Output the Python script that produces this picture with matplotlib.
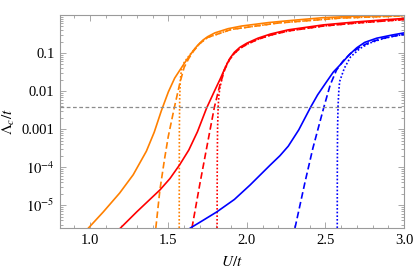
import numpy as np
import matplotlib
matplotlib.use("Agg")
import matplotlib.pyplot as plt
from matplotlib.ticker import FixedLocator, FuncFormatter, MultipleLocator

# ---------- data (y values as log10 of Lambda_c/t) ----------

orange_solid_U = [0.989, 1.085, 1.19, 1.276, 1.36, 1.41, 1.455, 1.50, 1.54, 1.573, 1.605,
                  1.637, 1.665, 1.69, 1.72, 1.75, 1.796, 1.88, 1.966, 2.136, 2.263, 2.486, 2.70, 3.0]
orange_solid_log = [-5.61, -5.18, -4.68, -4.20, -3.58, -3.08, -2.52, -2.02, -1.66, -1.45, -1.25,
                    -1.06, -0.90, -0.78, -0.66, -0.57, -0.47, -0.36, -0.29, -0.20, -0.15, -0.07, -0.03, -0.01]

orange_dash_U = [1.42, 1.446, 1.475, 1.499, 1.537, 1.573, 1.60, 1.63, 1.66, 1.70, 1.75, 1.9, 2.2, 2.6, 3.0]
orange_dash_log = [-5.6, -4.6, -3.8, -3.2, -2.45, -1.79, -1.38, -1.14, -0.95, -0.75, -0.59, -0.38, -0.21, -0.08, -0.02]

orange_dot_U = [1.569, 1.5695, 1.570, 1.572, 1.576, 1.583, 1.60, 1.63, 1.66, 1.70, 1.75, 1.9, 2.2, 2.6, 3.0]
orange_dot_log = [-5.6, -4.0, -3.0, -2.2, -1.7, -1.45, -1.25, -1.08, -0.93, -0.75, -0.59, -0.38, -0.21, -0.08, -0.02]

red_solid_U = [1.195, 1.30, 1.446, 1.51, 1.573, 1.63, 1.685, 1.743, 1.79, 1.83, 1.86, 1.89,
               1.92, 1.955, 2.0, 2.07, 2.15, 2.263, 2.486, 2.70, 3.0]
red_solid_log = [-5.6, -5.17, -4.6, -4.3, -3.93, -3.55, -3.07, -2.45, -2.03, -1.68, -1.40, -1.15,
                 -0.98, -0.85, -0.74, -0.61, -0.50, -0.39, -0.26, -0.18, -0.09]

red_dash_U = [1.65, 1.70, 1.764, 1.793, 1.828, 1.86, 1.89, 1.92, 1.955, 2.0, 2.07, 2.15, 2.263,
              2.486, 2.70, 3.0]
red_dash_log = [-5.6, -4.45, -3.05, -2.42, -1.84, -1.42, -1.17, -1.01, -0.88, -0.77, -0.64, -0.53,
                -0.42, -0.29, -0.21, -0.12]

red_dot_U = [1.81, 1.811, 1.813, 1.817, 1.822, 1.828, 1.849, 1.87, 1.89, 1.92, 1.955, 2.0, 2.07,
             2.15, 2.263, 2.486, 2.70, 3.0]
red_dot_log = [-5.6, -4.0, -3.0, -2.4, -2.1, -1.92, -1.52, -1.30, -1.16, -1.01, -0.88, -0.77, -0.64,
               -0.53, -0.42, -0.29, -0.21, -0.12]

blue_solid_U = [1.64, 1.72, 1.807, 1.92, 2.02, 2.147, 2.21, 2.263, 2.33, 2.406, 2.45,
                2.508, 2.55, 2.603, 2.65, 2.70, 2.75, 2.826, 2.92, 3.0]
blue_solid_log = [-5.6, -5.4, -5.18, -4.85, -4.47, -3.95, -3.7, -3.45, -3.02, -2.42, -2.1,
                  -1.75, -1.50, -1.27, -1.05, -0.86, -0.72, -0.61, -0.53, -0.47]

blue_dash_U = [2.306, 2.37, 2.42, 2.49, 2.53, 2.57, 2.61, 2.66, 2.72, 2.78, 2.86, 2.93, 3.0]
blue_dash_log = [-5.6, -4.39, -3.5, -2.42, -1.84, -1.45, -1.22, -1.01, -0.84, -0.72, -0.62, -0.56, -0.51]

blue_dot_U = [2.575, 2.5755, 2.577, 2.58, 2.585, 2.59, 2.62, 2.66, 2.72, 2.78, 2.86, 2.93, 3.0]
blue_dot_log = [-5.6, -4.0, -3.0, -2.4, -2.0, -1.75, -1.40, -1.10, -0.88, -0.74, -0.63, -0.56, -0.51]

threshold = 0.0038   # gray dashed reference line

ytick_vals = [1e-5, 1e-4, 1e-3, 1e-2, 1e-1]
ytick_text = [r"$10^{-5}$", r"$10^{-4}$", "0.001", "0.01", "0.1"]
xtick_vals = [1.0, 1.5, 2.0, 2.5, 3.0]

ORANGE = (1.0, 0.5, 0.0)
RED = (1.0, 0.0, 0.0)
BLUE = (0.0, 0.0, 1.0)
FRAME = "#9a9a9a"

plt.rcParams["font.family"] = ["Liberation Serif", "DejaVu Serif"]
plt.rcParams["mathtext.fontset"] = "stix"

fig = plt.figure(figsize=(4.15, 2.77), dpi=100)
ax = fig.add_axes([60 / 415, 1 - 228 / 277, 344 / 415, 213 / 277])

curves = [
    (orange_solid_U, orange_solid_log, ORANGE, "-"),
    (orange_dash_U, orange_dash_log, ORANGE, (0, (4, 2))),
    (orange_dot_U, orange_dot_log, ORANGE, (0, (1, 1.2))),
    (red_solid_U, red_solid_log, RED, "-"),
    (red_dash_U, red_dash_log, RED, (0, (4, 2))),
    (red_dot_U, red_dot_log, RED, (0, (1, 1.2))),
    (blue_solid_U, blue_solid_log, BLUE, "-"),
    (blue_dash_U, blue_dash_log, BLUE, (0, (4, 2))),
    (blue_dot_U, blue_dot_log, BLUE, (0, (1, 1.2))),
]
for U, lg, color, ls in curves:
    ax.plot(U, 10 ** np.array(lg), color=color, ls=ls, lw=1.2)

ax.axhline(threshold, color="#8c8c8c", ls=(0, (3, 2)), lw=0.9)

ax.set_yscale("log")
ax.set_xlim(0.81, 3.0)
ax.set_ylim(10 ** -5.6, 1.0)

ax.xaxis.set_major_locator(FixedLocator(xtick_vals))
ax.xaxis.set_minor_locator(MultipleLocator(0.1))
ax.xaxis.set_major_formatter(FuncFormatter(lambda v, p: f"{v:.1f}"))
ax.yaxis.set_major_locator(FixedLocator(ytick_vals + [1.0]))
ax.yaxis.set_minor_locator(FixedLocator(
    [m * 10.0 ** e for e in range(-6, 0) for m in range(2, 10)]))
labels = dict(zip(ytick_vals, ytick_text))
ax.yaxis.set_major_formatter(FuncFormatter(
    lambda v, p: next((t for k, t in labels.items() if abs(np.log10(v) - np.log10(k)) < 1e-6), "")))

ax.tick_params(which="both", direction="in", top=True, right=True,
               color=FRAME, labelsize=10.5, labelcolor="black", width=0.6)
ax.tick_params(which="major", length=4, pad=4)
ax.tick_params(which="minor", length=2)
for s in ax.spines.values():
    s.set_color(FRAME)
    s.set_linewidth(0.8)

ax.set_xlabel(r"$U/t$", fontsize=11, labelpad=6)
ax.set_ylabel(r"$\Lambda_c/t$", fontsize=11, labelpad=3)

fig.savefig("out.png", dpi=100)
